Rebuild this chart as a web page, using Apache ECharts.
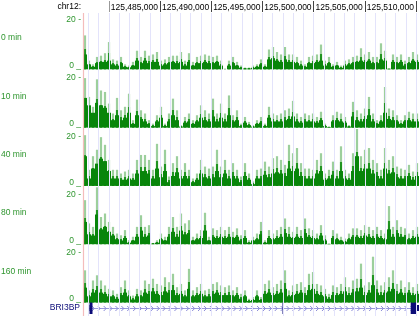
<!DOCTYPE html>
<html><head><meta charset="utf-8">
<script src="https://cdn.jsdelivr.net/npm/echarts@6/dist/echarts.min.js"></script>
<style>html,body{margin:0;padding:0;background:#fff}#c{width:419px;height:316px}</style>
</head><body><div id="c"></div>
<script>
// ---- data ----
const chrom = 'chr12:';
const XMIN = 125477480, XMAX = 125510293;
const headerTicks = [125480000,125485000,125490000,125495000,125500000,125505000,125510000];
const headerLabels = [125485000,125490000,125495000,125500000,125505000,125510000];
const trackNames = ['0 min','10 min','40 min','80 min','160 min'];
// peak (max) values per 4-px bin
const v0 = [13.7,3.5,2,5,5.5,6.5,11,4,3.5,5, 2,1.5,3,7.5,5,7.5,5.5,6,7,3.5, 4,5,5.5,5.5,7,3.5,6.5,3,5,5.5, 6,5.5,5,5.5,3.5,0.3,3.5,5,3,1.5, 0.7,0.7,1.5,2,4,2,8,9,7,6, 9,6,6,5,3.5,2,5,5.5,6,10, 3.5,5,2,3,1.5,3.5,4,5,5.5,8.5, 6,7,5,5,10.5,7.5,0.5,6,5,6, 3.5,5,7,6];
const v10 = [20,12.4,8.4,19.5,15,14.4,9.7,5.7,12,7, 8.4,13.7,3,11.3,7,5.7,3,1.6,5,8.4, 1.6,5.7,11.7,7,1,4.3,5.7,3,5,9, 7,5.7,11.7,5.7,9.7,5.7,13,5,7,1.6, 4.3,2.3,1,3,4.3,1.6,8.4,5.7,5,5.7, 7,7.7,10.8,5.7,4.3,5.7,5,5.7,4.3,6.4, 1.6,0.5,5,6.4,5.7,4.3,1,10.4,7,5.7, 7.7,12.4,5.7,3,5,16.4,7.7,7,5,3, 5,6.4,5.7,5.7];
const v40 = [20.5,6.5,12,14.6,19.7,16.6,10.5,6.5,6.5,5, 5.8,6.5,5,10.5,12.5,12.5,10.5,6.5,17,7.8, 14.6,3.8,9.2,12,6.5,9.2,6.5,3,5,10.5, 7.8,7,7.8,14.6,7.8,10.5,6.5,9.2,6.5,3.8, 9.2,5,1.8,6.5,7,9.8,7.8,11.2,12,10.5, 8.5,16.6,13.2,15.3,9.2,7,7,6.5,10.5,13.2, 5,6.5,9.8,6.5,16,6.5,5,13.2,23,12, 14.6,15.3,10.5,9.2,6.5,15.3,10.5,12,7.8,7, 6.5,8.5,5.8,9.2];
const v80 = [17.8,8.4,7,23,11,12.4,9,7,4.3,3.6, 5.7,1.6,3,7,11.7,7,7.7,0.5,1.6,4.3, 3,7,11,7,12.4,8.4,9.7,3,4.3,5.7, 12.7,3,6.4,5.7,7,5.7,7,5,6.4,3.6, 5.7,1.6,3,4.3,9,1.6,5.7,4.3,5.7,7, 10.4,7,5,7,5.7,10.4,6.4,5.7,4.3,7.7, 3.6,0.3,5.7,4.3,3,2.3,4.3,6.4,6.4,5.7, 7.7,7,5.7,7,5.7,4.3,15.4,7,9.7,7, 6.4,4.3,5.7,7];
const v160 = [13,4.9,8.9,11,8.9,6.9,5.5,4.9,3.5,6.2, 8.9,4.9,2.8,5.5,4.9,8.9,7.5,9.6,7.5,6.9, 10.2,8.2,11.6,6.2,7.5,4.9,13.6,4.9,6.2,7.5, 4.9,5.5,7.5,8.2,6.9,6.2,6.9,4.9,6.2,3.5, 4.9,1.5,2.2,4.9,2.2,7.5,8.9,6.2,7.5,8.9, 13,4.9,6.9,7.5,8.2,6.2,11.6,12.3,7.5,6.9, 5.5,3.5,6.9,6.2,7.5,10.2,6.2,8.9,9.6,15.7, 6.9,8.2,18.5,8.9,6.9,8.2,10.2,13,7.5,8.9, 6.2,8.2,6.2,7.5];
// dense (dark floor) values per bin
const f0 = [6,2,1,2.5,3,3,3.5,2,1.5,2.5, 1,0.8,1.5,3.5,2.5,3.5,2.5,3,3,1.5, 2,2.5,3,2.5,3,1.5,3,1.5,2.5,2.5, 3,2.5,2.5,3,1.5,0,1.5,2.5,1.5,0.6, 0.3,0.3,0.6,1,2,1,4,4.5,3.5,3, 4,3,3,2.5,1.5,1,2.5,2.5,3,3.5, 1.5,2.5,1,1.5,0.6,1.5,2,2.5,3,3.5, 3,3.5,2.5,2.5,4,3.5,0.2,3,2.5,3, 1.5,2.5,3.5,3];
const f10 = [12,9,6,10,9,8,6,3,5,3, 4,6,1.5,5,3.5,2.5,1.5,0.6,2.5,4, 0.6,2.5,5,3,0.4,2,2.5,1.5,2.5,4, 3,2.5,4.5,2.5,4,2.5,5,2.5,3,0.6, 2,1,0.4,1.5,2,0.6,4,2.5,2.5,2.5, 3,3.5,4.5,2.5,2,2.5,2.5,2.5,2,3, 0.6,0.2,2.5,3,2.5,2,0.4,4.5,3,2.5, 3.5,5,2.5,1.5,2.5,6,3.5,3,2.5,1.5, 2.5,3,2.5,2.5];
const f40 = [12,3,7,9,11,10,6,3,3,2.5, 2.5,3,2.5,5,6,6,5,3,7,3.5, 6,1.5,4,5.5,3,4,3,1.5,2.5,5, 3.5,3,3.5,6,3.5,5,3,4,3,1.5, 4,2.5,0.7,3,3,4.5,3.5,5,5.5,5, 4,7,6,7,4,3,3,3,5,6, 2.5,3,4.5,3,6,3,2.5,6,12,6, 7,7,5,4,3,7,5,5.5,3.5,3, 3,4,2.5,4];
const f80 = [9,4,3.5,12,6,7,5,3.5,2,1.5, 2.5,0.6,1.5,3,5.5,3,3.5,0.2,0.6,2, 1.5,3,5,3,5.5,4,4.5,1.5,2,2.5, 5.5,1.5,3,2.5,3,2.5,3,2.5,3,1.5, 2.5,0.6,1.5,2,4,0.6,2.5,2,2.5,3, 4.5,3,2.5,3,2.5,4.5,3,2.5,2,3.5, 1.5,0.1,2.5,2,1.5,1,2,3,3,2.5, 3.5,3,2.5,3,2.5,2,6,3,4.5,3, 3,2,2.5,3];
const f160 = [6,2.5,4,5,4,3.5,2.5,2.5,1.5,3, 4,2.5,1.2,2.5,2.5,4,3.5,4.5,3.5,3, 4.5,4,5,3,3.5,2.5,5.5,2.5,3,3.5, 2.5,2.5,3.5,4,3,3,3,2.5,3,1.5, 2.5,0.6,1,2.5,1,3.5,4,3,3.5,4, 5.5,2.5,3,3.5,4,3,5,5.5,3.5,3, 2.5,1.5,3,3,3.5,4.5,3,4,4.5,6, 3,4,7,4,3,4,4.5,5.5,3.5,4, 3,4,3,3.5];
const geneName = 'BRI3BP';
const geneTx = [125478100, 125510300];
const exonStarts = [125477968, 125478115, 125496962, 125509482, 125510097];
const exonEnds   = [125478115, 125478408, 125497060, 125510097, 125510300];
const exonThick  = [0, 1, 1, 1, 0];

// ---- build ----
const peaks = [v0, v10, v40, v80, v160];
const floors = [f0, f10, f40, f80, f160];
const bins = v0.map((_, i) => String(i));
const gridlinePos = [];
for (let p = 125478000; p <= XMAX; p += 1000) gridlinePos.push(p);
const fmt = v => String(v).replace(/\B(?=(\d{3})+(?!\d))/g, ',');

const PL = 83, TOP0 = 19.8, STEP = 58.3, TH = 49.5;
const GREEN_TXT = '#2f962f', NAVY = '#0c0c78', DARK = '#08850a', LIGHT = '#9ccf9c';
const FONT = 'Liberation Sans, Arial, sans-serif';
const peakColor = new echarts.graphic.LinearGradient(0, 0, 0, 1, [
  {offset: 0, color: LIGHT}, {offset: 0.4, color: LIGHT},
  {offset: 0.4, color: '#239623'}, {offset: 1, color: DARK}]);

const grid = [
  {left: PL, right: 0, top: 13, bottom: 0},
  {left: PL, right: 0, top: 1, height: 11}
];
const xAxis = [
  {gridIndex: 0, type: 'value', min: XMIN, max: XMAX, show: false},
  {gridIndex: 1, type: 'value', min: XMIN, max: XMAX, position: 'top',
   axisLine: {show: false}, splitLine: {show: false}, axisTick: {show: false},
   axisLabel: {show: true, inside: true, customValues: headerLabels, formatter: v => fmt(v),
     align: 'right', verticalAlign: 'top', margin: 2, padding: [0, 2, 0, 0],
     fontSize: 8.5, fontFamily: FONT, color: '#000', hideOverlap: false}}
];
const yAxis = [
  {gridIndex: 0, type: 'value', min: 0, max: 1, show: false},
  {gridIndex: 1, type: 'value', min: 0, max: 1, show: false}
];
const series = [{
  type: 'scatter', xAxisIndex: 0, yAxisIndex: 0, data: [[XMIN, -5]], symbolSize: 0, silent: true,
  markLine: {silent: true, symbol: 'none', label: {show: false}, animation: false,
    data: gridlinePos.map(p => ({xAxis: p, lineStyle: {color: '#e3e3fb', width: 1, type: 'solid'}}))
      .concat([{xAxis: XMIN + 40, lineStyle: {color: '#f4bcbc', width: 1.2, type: 'solid'}}])}
}, {
  type: 'scatter', xAxisIndex: 1, yAxisIndex: 1, data: [[XMIN, -5]], symbolSize: 0, silent: true,
  markLine: {silent: true, symbol: 'none', label: {show: false}, animation: false,
    data: headerTicks.map((p, i) => ({xAxis: p, lineStyle: {color: i === 0 ? '#999' : '#444', width: 1, type: 'solid'}}))}
}];
const graphic = [{type: 'text', right: 419 - 81, top: 2,
  style: {text: chrom, fill: '#000', font: '8.5px ' + FONT, textAlign: 'right'}}];

peaks.forEach((vals, k) => {
  const top = TOP0 + k * STEP;
  const gi = grid.length;
  grid.push({left: PL, right: 0, top: top, height: TH});
  const xa = xAxis.length;
  xAxis.push({gridIndex: gi, type: 'category', data: bins, show: false, boundaryGap: true});
  xAxis.push({gridIndex: gi, type: 'category', data: bins, show: false, boundaryGap: true});
  const ya = yAxis.length;
  yAxis.push({gridIndex: gi, type: 'value', min: 0, max: 20, interval: 20,
    axisLine: {show: false}, axisTick: {show: false}, splitLine: {show: false},
    axisLabel: {show: true, margin: 2, fontSize: 8.5, fontFamily: FONT, color: GREEN_TXT,
      formatter: v => v === 0 ? '{z|0 _}' : '{t|' + v + ' -}',
      rich: {z: {fontSize: 8.5, fontFamily: FONT, color: GREEN_TXT, padding: [0, 0, 7, 0]},
             t: {fontSize: 8.5, fontFamily: FONT, color: GREEN_TXT}}}});
  series.push({type: 'bar', xAxisIndex: xa, yAxisIndex: ya, data: vals, clip: false,
    barWidth: 2.2, itemStyle: {color: peakColor}, silent: true, animation: false});
  series.push({type: 'bar', xAxisIndex: xa + 1, yAxisIndex: ya, data: floors[k], clip: false,
    barWidth: 4.01, itemStyle: {color: DARK}, silent: true, animation: false});
  graphic.push({type: 'text', left: 1, top: top + 18.2 - 4.5,
    style: {text: trackNames[k], fill: GREEN_TXT, font: '8.5px ' + FONT}});
});

// gene track
const gg = grid.length;
grid.push({left: PL, right: 0, top: 301, height: 14});
xAxis.push({gridIndex: gg, type: 'value', min: XMIN, max: XMAX, show: false});
yAxis.push({gridIndex: gg, type: 'value', min: 0, max: 1, show: false});
const gxa = xAxis.length - 1, gya = yAxis.length - 1;
series.push({type: 'custom', xAxisIndex: gxa, yAxisIndex: gya, silent: true, animation: false,
  data: [geneTx],
  renderItem: (params, api) => {
    const s = api.coord([api.value(0), 0.5]), e = api.coord([api.value(1), 0.5]);
    const y = Math.round(s[1]) + 0.5;
    const ch = [{type: 'line', shape: {x1: s[0], y1: y, x2: e[0], y2: y},
      style: {stroke: '#9a9ade', lineWidth: 1}}];
    for (let x = s[0] + 4; x < e[0] - 2; x += 5.9) {
      ch.push({type: 'polyline', shape: {points: [[x - 1.5, y - 2.5], [x + 1, y], [x - 1.5, y + 2.5]]},
        style: {stroke: '#8a8ad6', lineWidth: 1, fill: null}});
    }
    return {type: 'group', children: ch};
  }});
series.push({type: 'custom', xAxisIndex: gxa, yAxisIndex: gya, silent: true, animation: false,
  data: exonStarts.map((s, i) => [s, exonEnds[i], exonThick[i]]),
  renderItem: (params, api) => {
    const s = api.coord([api.value(0), 0.5]), e = api.coord([api.value(1), 0.5]);
    const h = api.value(2) ? 12 : 6;
    return {type: 'rect', shape: {x: s[0], y: s[1] - h / 2, width: Math.max(1, e[0] - s[0]), height: h},
      style: {fill: NAVY}};
  }});
graphic.push({type: 'text', right: 419 - 80, top: 303,
  style: {text: geneName, fill: NAVY, font: '8.5px ' + FONT, textAlign: 'right'}});

const chart = echarts.init(document.getElementById('c'), null, {renderer: 'canvas'});
chart.setOption({animation: false, grid, xAxis, yAxis, series, graphic});
</script></body></html>
